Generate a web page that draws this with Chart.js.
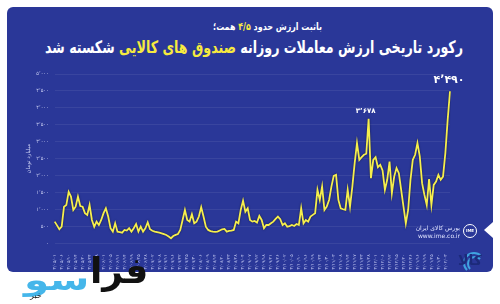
<!DOCTYPE html>
<html lang="fa">
<head>
<meta charset="utf-8">
<script src="https://cdn.jsdelivr.net/npm/chart.js@4.4.1/dist/chart.umd.min.js"></script>
<style>
  html, body { margin: 0; padding: 0; background: #fff; }
  body { width: 500px; height: 304px; position: relative; overflow: hidden; font-family: "DejaVu Sans", sans-serif; }
  .panel { position: absolute; left: 7px; top: 7px; width: 486px; height: 265px; background: #2a3798; border-radius: 6px; }
  .fit { position: absolute; white-space: nowrap; direction: rtl; color: #fff; font-weight: bold; transform-origin: 0 0; }
  .sub { top: 21px; font-size: 10px; }
  .title { top: 37px; font-size: 17px; }
  .hl { color: #f6ea3f; }
  #wrap { position: absolute; left: 0; top: 0; width: 500px; height: 304px; }
  .ime { position: absolute; left: 412px; top: 224px; color: #dfe3ff; font-size: 6px; line-height: 8px; text-align: right; width: 48px; }
  .ime .fa { direction: rtl; }
  .imelogo { position: absolute; left: 463px; top: 224px; width: 12px; height: 12px; border: 1.5px solid #fff; border-radius: 50%; color: #fff; font-size: 4px; font-weight: bold; text-align: center; line-height: 12px; }
  .chev { position: absolute; left: 484px; top: 222px; width: 0; height: 0; border-top: 8px solid transparent; border-bottom: 8px solid transparent; border-right: 9px solid #fff; }
  .kala { position: absolute; left: 458px; top: 252px; color: #1c2a7a; font-weight: bold; font-size: 14px; direction: rtl; }
  .arc { position: absolute; border: 2px solid #3fa3e0; border-right-color: transparent; border-bottom-color: transparent; border-radius: 50%; }
  .logo1 { position: absolute; left: 90px; top: 250px; color: #111; font-weight: bold; font-size: 36px; direction: rtl; }
  .logo2 { position: absolute; left: 24px; top: 262px; color: #45b6ea; font-weight: bold; font-size: 30px; direction: rtl; transform: scaleX(1.35); transform-origin: 0 0; }
  .logo3 { position: absolute; left: 30px; top: 291px; color: #111; font-size: 8px; direction: rtl; }
</style>
</head>
<body>
<div class="panel"></div>
<div class="fit sub" id="sub">باثبت ارزش حدود <span class="hl">۴/۵</span> همت؛</div>
<div class="fit title" id="title">رکورد تاریخی ارزش معاملات روزانه <span class="hl">صندوق های کالایی</span> شکسته شد</div>
<div id="wrap"><canvas id="chart" width="500" height="304"></canvas></div>
<div class="ime"><div class="fa">بورس کالای ایران</div><div>www.ime.co.ir</div></div>
<div class="imelogo">IME</div>
<div class="chev"></div>
<div class="arc" style="left:463px;top:252px;width:18px;height:18px;"></div>
<div class="arc" style="left:467px;top:256px;width:12px;height:12px;"></div>
<div class="kala">کالا</div>
<div class="logo2">سو</div>
<div class="logo1">فرا</div>
<div class="logo3">خبر</div>

<script>
// daily trading value of commodity funds, billion toman
const values = [
  640, 530, 415, 490, 1080, 1130, 1520, 1380, 985, 1080,
  1380, 1100, 1080, 890, 840, 1130, 690, 490, 640, 540,
  690, 890, 1035, 790, 445, 345, 590, 345, 330, 315,
  395, 375, 445, 345, 445, 570, 345, 490, 345, 445,
  620, 415, 370, 345, 330, 315, 295, 270, 245, 200,
  150, 215, 250, 275, 395, 690, 985, 690, 640, 860,
  590, 640, 790, 1065, 790, 490, 395, 360, 345, 340,
  345, 380, 415, 425, 345, 365, 375, 395, 640, 590,
  985, 1260, 935, 1035, 690, 640, 660, 610, 810, 690,
  445, 540, 540, 590, 640, 720, 790, 710, 540, 590,
  490, 510, 540, 510, 570, 540, 1035, 590, 690, 640,
  790, 840, 890, 1580, 1280, 1675, 985, 1085, 1280, 1675,
  1990, 2020, 1280, 1035, 1005, 985, 1580, 1085, 1675, 2370,
  2960, 2465, 2545, 2615, 2645, 3678, 1925, 2465, 2545, 2250,
  2320, 2150, 1580, 1875, 2415, 1480, 1970, 2220, 2070, 1580,
  1085, 590, 985, 1875, 2465, 2615, 2960, 2565, 1775, 1430,
  1130, 1895, 1130, 1725, 1825, 2020, 1875, 1970, 2665, 3650,
  4490
];

// date ticks, one every third trading day
const dateTicks = [
  '۱۴۰۳/۰۵/۰۱','۱۴۰۳/۰۵/۰۶','۱۴۰۳/۰۵/۱۰','۱۴۰۳/۰۵/۱۴','۱۴۰۳/۰۵/۲۰','۱۴۰۳/۰۵/۲۴','۱۴۰۳/۰۵/۲۸',
  '۱۴۰۳/۰۶/۰۱','۱۴۰۳/۰۶/۰۵','۱۴۰۳/۰۶/۱۱','۱۴۰۳/۰۶/۱۴','۱۴۰۳/۰۶/۱۹','۱۴۰۳/۰۶/۲۵','۱۴۰۳/۰۶/۲۸',
  '۱۴۰۳/۰۷/۰۲','۱۴۰۳/۰۷/۰۸','۱۴۰۳/۰۷/۱۱','۱۴۰۳/۰۷/۱۶','۱۴۰۳/۰۷/۲۲','۱۴۰۳/۰۷/۲۵','۱۴۰۳/۰۷/۳۰',
  '۱۴۰۳/۰۸/۰۶','۱۴۰۳/۰۸/۰۹','۱۴۰۳/۰۸/۱۴','۱۴۰۳/۰۸/۲۰','۱۴۰۳/۰۸/۲۳','۱۴۰۳/۰۸/۲۸',
  '۱۴۰۳/۰۹/۰۴','۱۴۰۳/۰۹/۰۷','۱۴۰۳/۰۹/۱۲','۱۴۰۳/۰۹/۱۸','۱۴۰۳/۰۹/۲۱','۱۴۰۳/۰۹/۲۶',
  '۱۴۰۳/۱۰/۰۲','۱۴۰۳/۱۰/۰۵','۱۴۰۳/۱۰/۱۰','۱۴۰۳/۱۰/۱۶','۱۴۰۳/۱۰/۱۹','۱۴۰۳/۱۰/۲۴','۱۴۰۳/۱۰/۳۰',
  '۱۴۰۳/۱۱/۰۳','۱۴۰۳/۱۱/۰۸','۱۴۰۳/۱۱/۱۴','۱۴۰۳/۱۱/۱۷','۱۴۰۳/۱۱/۲۳','۱۴۰۳/۱۱/۲۸',
  '۱۴۰۳/۱۲/۰۱','۱۴۰۳/۱۲/۰۶','۱۴۰۳/۱۲/۱۲','۱۴۰۳/۱۲/۱۵','۱۴۰۳/۱۲/۲۰','۱۴۰۳/۱۲/۲۶',
  '۱۴۰۴/۰۱/۱۶','۱۴۰۴/۰۱/۱۹','۱۴۰۴/۰۱/۲۵','۱۴۰۴/۰۱/۳۰','۱۴۰۴/۰۲/۰۳'
];

const yTickLabels = ['۰','۵۰۰','۱٬۰۰۰','۱٬۵۰۰','۲٬۰۰۰','۲٬۵۰۰','۳٬۰۰۰','۳٬۵۰۰','۴٬۰۰۰','۴٬۵۰۰','۵٬۰۰۰'];
const yTitle = 'میلیارد تومان';

const peakValues = [3678, 4490];
const peakTexts = ['۳٬۶۷۸', '۴٬۴۹۰'];

// squeeze the headings into the width they take on the poster
function fitText(id, left, right) {
  const el = document.getElementById(id);
  const w = el.getBoundingClientRect().width;
  el.style.left = left + 'px';
  el.style.transform = 'scaleX(' + ((right - left) / w) + ')';
}
fitText('title', 45, 463);
fitText('sub', 213, 322);

// category labels: a date on every third day, blank otherwise
const labels = values.map((v, i) => (i % 3 === 0 && dateTicks[i / 3]) ? dateTicks[i / 3] : '');

const peakLabels = {
  id: 'peakLabels',
  afterDatasetsDraw(chart) {
    const ctx = chart.ctx, xs = chart.scales.x, ys = chart.scales.y;
    ctx.save();
    ctx.fillStyle = '#fff';
    ctx.textAlign = 'center';
    ctx.textBaseline = 'bottom';
    peakValues.forEach((pv, k) => {
      const idx = values.indexOf(pv);
      const x = xs.getPixelForValue(idx);
      const y = ys.getPixelForValue(pv);
      if (k === peakValues.length - 1) {
        ctx.font = 'bold 11px "DejaVu Sans"';
        ctx.fillText(peakTexts[k], x - 1, y - 6);
      } else {
        ctx.font = 'bold 7px "DejaVu Sans"';
        ctx.fillText(peakTexts[k], x - 3, y - 4);
      }
    });
    ctx.restore();
  }
};

const lineShadow = {
  id: 'lineShadow',
  beforeDatasetsDraw(chart) {
    chart.ctx.save();
    chart.ctx.shadowColor = 'rgba(0,0,20,0.6)';
    chart.ctx.shadowBlur = 2;
  },
  afterDatasetsDraw(chart) {
    chart.ctx.restore();
  }
};

new Chart(document.getElementById('chart'), {
  type: 'line',
  data: {
    labels: labels,
    datasets: [{
      data: values,
      borderColor: '#f5ee4d',
      borderWidth: 1.8,
      pointRadius: 0,
      tension: 0,
      fill: false
    }]
  },
  options: {
    responsive: false,
    animation: false,
    layout: { padding: { left: 23, right: 50, top: 74, bottom: 34 } },
    plugins: { legend: { display: false }, tooltip: { enabled: false } },
    scales: {
      x: {
        grid: { display: false },
        border: { display: false },
        afterFit: s => { s.height = 304 - 243.3 - 34; },
        ticks: {
          autoSkip: false,
          minRotation: 90,
          maxRotation: 90,
          padding: 3,
          color: '#c3c9f2',
          font: { family: 'DejaVu Sans', size: 4.5 }
        }
      },
      y: {
        min: 0,
        max: 5000,
        afterFit: s => { s.width = 31.7; },
        grid: { color: 'rgba(255,255,255,0.13)', lineWidth: 0.6, drawTicks: false },
        border: { display: false },
        title: {
          display: true,
          text: yTitle,
          color: '#c8cdf2',
          font: { family: 'DejaVu Sans', size: 5.5 },
          padding: { top: 2, bottom: 2 }
        },
        ticks: {
          stepSize: 500,
          padding: 6,
          color: '#c8cdf2',
          font: { family: 'DejaVu Sans', size: 5 },
          callback: v => yTickLabels[Math.round(v / 500)]
        }
      }
    }
  },
  plugins: [lineShadow, peakLabels]
});
</script>
</body>
</html>
